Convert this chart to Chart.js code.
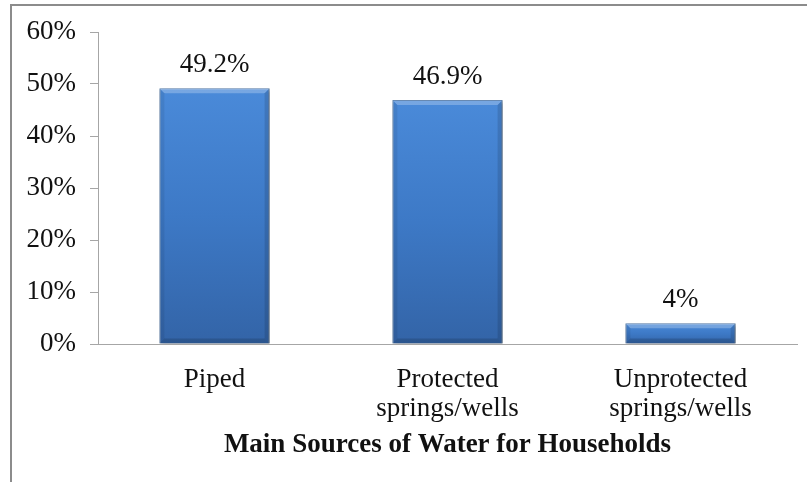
<!DOCTYPE html>
<html>
<head>
<meta charset="utf-8">
<title>Main Sources of Water for Households</title>
<script src="https://cdn.jsdelivr.net/npm/chart.js@4/dist/chart.umd.min.js"></script>
<style>
  html, body { margin: 0; padding: 0; background: #fff; }
  #wrap { position: relative; width: 807px; height: 482px; overflow: hidden; }
  #frame { position: absolute; left: 10px; top: 4px; width: 900px; height: 600px;
           border-top: 2px solid #8c8c8c; border-left: 2px solid #8c8c8c; }
  canvas { position: absolute; left: 0; top: 0; }
</style>
</head>
<body>
<div id="wrap">
  <div id="frame"></div>
  <canvas id="waterChart" width="807" height="482"></canvas>
</div>
<script>
const sources = [['Piped'], ['Protected', 'springs/wells'], ['Unprotected', 'springs/wells']];
const shares = [49.2, 46.9, 4];
const yTicks = [0, 10, 20, 30, 40, 50, 60];

const serif = "'Liberation Serif', 'Times New Roman', serif";
const axisGray = '#a6a6a6';

// vertical gradient per bar, light at the top and darker toward the base
function barFill(context) {
    const chart = context.chart;
    const yScale = chart.scales.y;
    if (!chart.chartArea || !yScale || context.parsed === undefined) {
        return '#3d78c4';
    }
    const top = yScale.getPixelForValue(context.parsed.y);
    const base = yScale.getPixelForValue(0);
    const g = chart.ctx.createLinearGradient(0, top, 0, base);
    g.addColorStop(0, '#4a8ad9');
    g.addColorStop(0.5, '#3d79c6');
    g.addColorStop(1, '#3364a7');
    return g;
}

// soft drop shadow behind the bars
const barShadow = {
    id: 'barShadow',
    beforeDatasetsDraw(chart) {
        const ctx = chart.ctx;
        ctx.save();
        ctx.shadowColor = 'rgba(0, 0, 0, 0.35)';
        ctx.shadowBlur = 4;
        ctx.shadowOffsetX = 2;
        ctx.shadowOffsetY = 2;
    },
    afterDatasetsDraw(chart) {
        chart.ctx.restore();
    }
};

// bevelled edges and value labels on top of each bar
const bevelAndLabels = {
    id: 'bevelAndLabels',
    afterDatasetsDraw(chart) {
        const ctx = chart.ctx;
        const meta = chart.getDatasetMeta(0);
        const b = 5;
        meta.data.forEach((bar, i) => {
            const left = bar.x - bar.width / 2;
            const right = bar.x + bar.width / 2;
            const top = bar.y;
            const base = bar.base;
            const bb = Math.min(b, (base - top) / 2);

            ctx.save();
            ctx.fillStyle = 'rgba(255, 255, 255, 0.25)';
            ctx.beginPath();
            ctx.moveTo(left, top);
            ctx.lineTo(right, top);
            ctx.lineTo(right - bb, top + bb);
            ctx.lineTo(left + bb, top + bb);
            ctx.closePath();
            ctx.fill();

            ctx.fillStyle = 'rgba(0, 0, 0, 0.07)';
            ctx.beginPath();
            ctx.moveTo(left, top);
            ctx.lineTo(left + bb, top + bb);
            ctx.lineTo(left + bb, base - bb);
            ctx.lineTo(left, base);
            ctx.closePath();
            ctx.fill();

            ctx.fillStyle = 'rgba(0, 0, 0, 0.12)';
            ctx.beginPath();
            ctx.moveTo(right, top);
            ctx.lineTo(right - bb, top + bb);
            ctx.lineTo(right - bb, base - bb);
            ctx.lineTo(right, base);
            ctx.closePath();
            ctx.fill();

            ctx.fillStyle = 'rgba(0, 0, 0, 0.15)';
            ctx.beginPath();
            ctx.moveTo(left, base);
            ctx.lineTo(left + bb, base - bb);
            ctx.lineTo(right - bb, base - bb);
            ctx.lineTo(right, base);
            ctx.closePath();
            ctx.fill();

            ctx.fillStyle = '#111';
            ctx.font = '27px ' + serif;
            ctx.textAlign = 'center';
            ctx.textBaseline = 'alphabetic';
            ctx.fillText(shares[i] + '%', bar.x, top - 16);
            ctx.restore();
        });
    }
};

const chart = new Chart(document.getElementById('waterChart'), {
    type: 'bar',
    data: {
        labels: sources,
        datasets: [{
            data: shares,
            backgroundColor: barFill,
            borderColor: '#36669f',
            borderWidth: 1,
            categoryPercentage: 1,
            barPercentage: 0.473
        }]
    },
    options: {
        responsive: false,
        animation: false,
        layout: { padding: { top: 32, right: 10, left: 0, bottom: 0 } },
        plugins: {
            legend: { display: false },
            tooltip: { enabled: false }
        },
        scales: {
            x: {
                grid: { display: false },
                border: { display: true, color: axisGray, width: 1 },
                ticks: {
                    color: '#111',
                    font: { family: serif, size: 27, lineHeight: 1.05 },
                    padding: 14,
                    autoSkip: false,
                    maxRotation: 0
                },
                title: {
                    display: true,
                    text: 'Main Sources of Water for Households',
                    color: '#111',
                    font: { family: serif, size: 27, weight: 'bold', lineHeight: 1.2 },
                    padding: { top: 0, bottom: 21 }
                },
                afterFit(scale) { scale.height = 138; }
            },
            y: {
                min: 0,
                max: 60,
                afterBuildTicks(scale) {
                    scale.ticks = yTicks.map(v => ({ value: v }));
                },
                grid: { drawOnChartArea: false, drawTicks: true, tickLength: 8, color: axisGray },
                border: { display: true, color: axisGray, width: 1 },
                ticks: {
                    color: '#111',
                    font: { family: serif, size: 27 },
                    padding: 14,
                    callback: v => v + '%'
                },
                afterFit(scale) { scale.width = 98; }
            }
        }
    },
    plugins: [barShadow, bevelAndLabels]
});
</script>
</body>
</html>
